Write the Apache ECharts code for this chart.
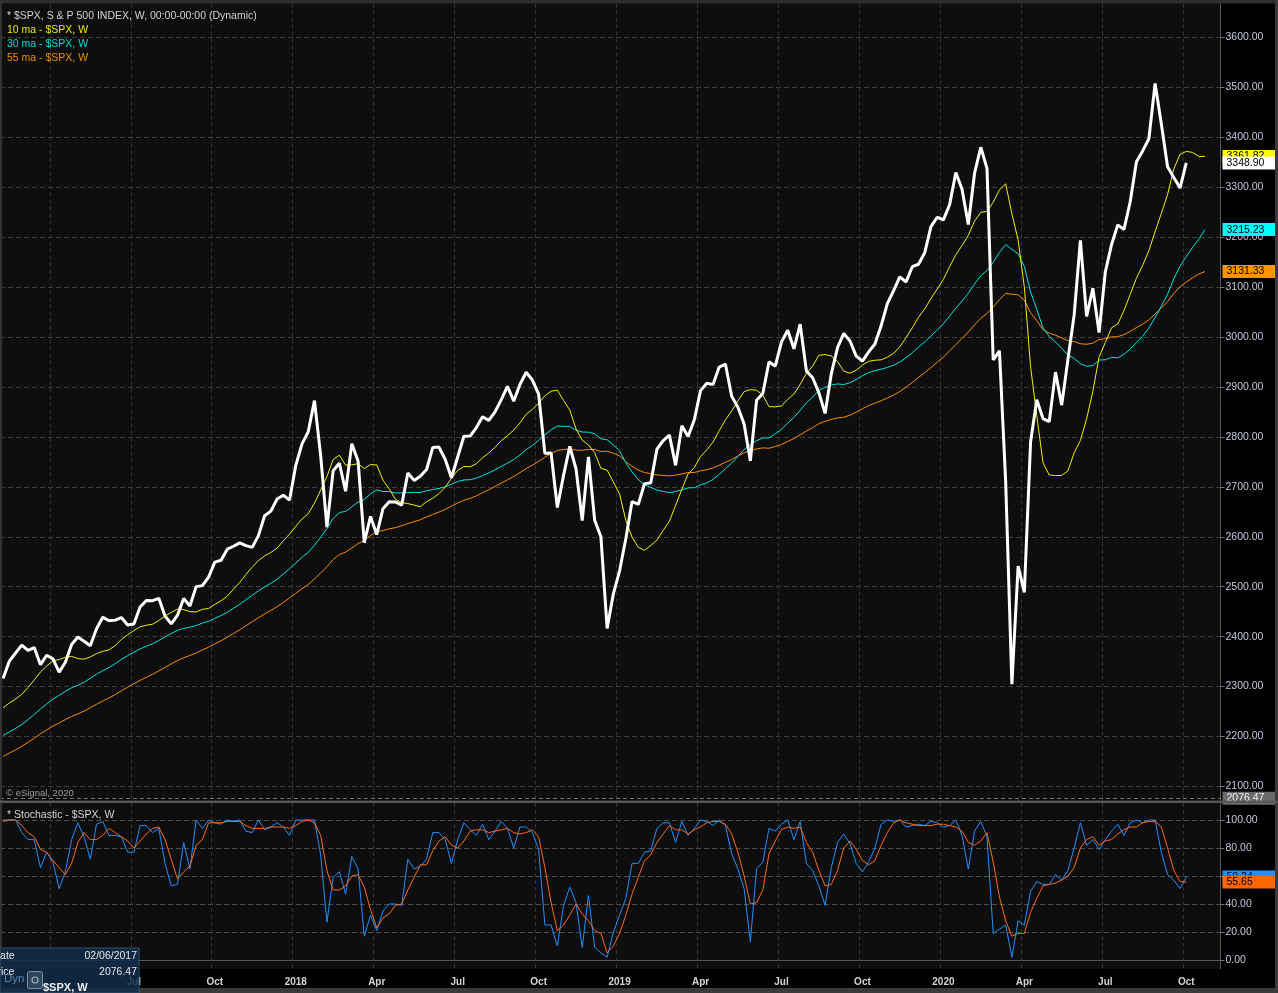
<!DOCTYPE html>
<html>
<head>
<meta charset="utf-8">
<title>$SPX weekly with moving averages and stochastic</title>
<script src="https://cdn.jsdelivr.net/npm/echarts/dist/echarts.min.js"></script>
<style>
  html, body { margin: 0; padding: 0; background: #000; }
  #chart { width: 1278px; height: 993px; }
</style>
</head>
<body>
<div id="chart"></div>
<script>
// S&P 500 weekly closes, one per week starting with the week of 02/06/2017
const closes = [
  2316.10, 2351.16, 2367.34, 2383.12, 2372.60, 2378.25, 2343.98, 2362.72, 2355.54, 2328.95,
  2348.69, 2384.20, 2399.29, 2390.90, 2381.73, 2415.82, 2439.07, 2431.77, 2433.15, 2438.30,
  2423.41, 2425.18, 2459.27, 2472.54, 2472.10, 2476.83, 2441.32, 2425.55, 2443.05, 2476.55,
  2461.43, 2500.23, 2502.22, 2519.36, 2549.33, 2553.17, 2575.21, 2581.07, 2587.84, 2582.30,
  2578.85, 2602.42, 2642.22, 2651.50, 2675.81, 2683.34, 2673.61, 2743.15, 2786.24, 2810.30,
  2872.87, 2762.13, 2619.55, 2732.22, 2747.30, 2691.25, 2786.57, 2752.01, 2588.26, 2640.87,
  2604.47, 2656.30, 2670.14, 2669.91, 2663.42, 2727.72, 2712.97, 2721.33, 2734.62, 2779.03,
  2779.66, 2754.88, 2718.37, 2759.82, 2801.31, 2801.83, 2818.82, 2840.35, 2833.28, 2850.13,
  2874.69, 2901.52, 2871.68, 2904.98, 2929.67, 2913.98, 2885.57, 2767.13, 2767.78, 2658.69,
  2723.06, 2781.01, 2736.27, 2632.56, 2760.17, 2633.08, 2599.95, 2416.62, 2485.74, 2531.94,
  2596.26, 2670.71, 2664.76, 2706.53, 2707.88, 2775.60, 2792.67, 2803.69, 2743.07, 2822.48,
  2800.71, 2834.40, 2892.74, 2907.41, 2905.03, 2939.88, 2945.64, 2881.40, 2859.53, 2826.06,
  2752.06, 2873.34, 2886.98, 2950.46, 2941.76, 2990.41, 3013.77, 2976.61, 3025.86, 2932.05,
  2918.65, 2888.68, 2847.11, 2926.46, 2978.71, 3007.39, 2992.07, 2961.79, 2952.01, 2970.27,
  2986.20, 3022.55, 3066.91, 3093.08, 3120.46, 3110.29, 3140.98, 3145.91, 3168.80, 3221.22,
  3240.02, 3234.85, 3265.35, 3329.62, 3295.47, 3225.52, 3327.71, 3380.16, 3337.75, 2954.22,
  2972.37, 2711.02, 2304.92, 2541.47, 2488.65, 2789.82, 2874.56, 2836.74, 2830.71, 2929.80,
  2863.70, 2955.45, 3044.31, 3193.93, 3041.31, 3097.74, 3009.05, 3130.01, 3185.04, 3224.73,
  3215.63, 3271.12, 3351.28, 3372.85, 3397.16, 3508.01, 3426.96, 3340.97, 3319.47, 3298.46,
  3348.90
];

// moving averages as drawn: they sit 3 weeks to the right of the price,
// so they start at the first week and run 3 weeks past the last close
const ma10 = [
  2257.7, 2267.1, 2274.9, 2284.5, 2298.3, 2313.3, 2329.3, 2341.3, 2351.7, 2354.2,
  2358.8, 2360.5, 2356.2, 2354.9, 2359.4, 2366.0, 2370.6, 2373.4, 2382.2, 2394.5,
  2403.8, 2412.1, 2419.8, 2422.9, 2424.9, 2432.4, 2441.3, 2448.6, 2455.2, 2454.1,
  2450.2, 2449.5, 2454.8, 2456.5, 2464.7, 2471.8, 2481.2, 2495.2, 2508.6, 2524.6,
  2539.2, 2552.3, 2561.7, 2568.6, 2577.5, 2591.9, 2605.5, 2621.1, 2635.6, 2646.2,
  2667.5, 2693.6, 2720.6, 2754.8, 2763.5, 2743.5, 2744.2, 2746.3, 2736.8, 2744.7,
  2744.1, 2713.5, 2696.2, 2675.3, 2668.7, 2666.5, 2663.5, 2660.3, 2670.4, 2677.1,
  2686.7, 2699.3, 2717.3, 2733.0, 2740.9, 2740.3, 2746.4, 2758.4, 2768.0, 2779.4,
  2792.7, 2802.5, 2813.7, 2828.1, 2845.6, 2855.1, 2867.7, 2882.3, 2891.6, 2893.8,
  2873.1, 2854.0, 2816.2, 2793.5, 2784.1, 2768.7, 2737.1, 2733.5, 2709.9, 2685.5,
  2632.9, 2599.3, 2579.1, 2572.9, 2582.7, 2593.3, 2612.9, 2631.3, 2663.1, 2695.3,
  2726.0, 2738.6, 2760.9, 2774.0, 2789.5, 2812.7, 2834.3, 2851.9, 2872.3, 2890.9,
  2894.8, 2893.5, 2883.8, 2860.7, 2860.4, 2862.0, 2875.2, 2886.1, 2905.0, 2927.5,
  2941.9, 2963.5, 2965.0, 2962.3, 2951.0, 2931.8, 2927.7, 2933.6, 2944.0, 2951.4,
  2953.7, 2954.4, 2959.8, 2967.3, 2980.4, 2999.1, 3018.5, 3039.7, 3056.6, 3077.2,
  3096.1, 3115.7, 3140.9, 3165.0, 3183.5, 3203.7, 3232.1, 3249.7, 3251.7, 3270.1,
  3294.6, 3307.1, 3246.8, 3194.6, 3099.8, 2940.7, 2842.0, 2748.2, 2723.8, 2722.7,
  2723.0, 2732.1, 2768.3, 2793.0, 2836.3, 2891.2, 2960.0, 2989.1, 3018.6, 3026.2,
  3053.4, 3085.3, 3118.1, 3143.8, 3173.1, 3211.2, 3247.8, 3285.4, 3336.8, 3366.0,
  3371.9, 3370.0, 3361.9, 3361.82
];

const ma30 = [
  2202.1, 2209.3, 2216.3, 2224.1, 2233.9, 2244.3, 2255.3, 2265.3, 2275.2, 2282.4,
  2290.5, 2297.8, 2302.8, 2308.8, 2316.5, 2324.8, 2332.0, 2338.2, 2345.9, 2354.6,
  2362.0, 2368.9, 2375.6, 2380.9, 2385.7, 2392.4, 2399.6, 2406.3, 2412.8, 2416.5,
  2419.0, 2422.1, 2427.2, 2430.8, 2436.7, 2442.3, 2448.8, 2456.9, 2464.9, 2473.9,
  2482.8, 2491.7, 2499.7, 2507.0, 2515.2, 2525.6, 2536.1, 2547.6, 2558.9, 2569.0,
  2583.1, 2599.3, 2616.3, 2636.6, 2648.7, 2650.9, 2660.0, 2669.6, 2674.9, 2685.9,
  2694.0, 2690.8, 2690.6, 2687.8, 2688.0, 2688.7, 2689.1, 2688.7, 2692.3, 2694.5,
  2697.0, 2700.0, 2705.6, 2710.8, 2713.9, 2714.4, 2717.4, 2722.8, 2728.0, 2734.0,
  2741.1, 2747.5, 2754.9, 2763.9, 2774.6, 2783.0, 2793.0, 2804.3, 2814.2, 2821.7,
  2821.4, 2821.1, 2813.4, 2809.8, 2809.6, 2806.3, 2796.2, 2794.4, 2784.2, 2772.0,
  2748.3, 2729.7, 2714.6, 2704.2, 2699.0, 2693.5, 2690.9, 2688.5, 2690.7, 2694.0,
  2698.1, 2698.3, 2703.9, 2708.1, 2714.6, 2725.1, 2736.4, 2747.6, 2761.1, 2774.9,
  2784.5, 2792.4, 2797.9, 2798.3, 2806.4, 2815.3, 2827.8, 2839.2, 2853.3, 2868.2,
  2879.8, 2893.3, 2899.6, 2904.2, 2906.2, 2905.0, 2908.6, 2915.0, 2922.7, 2928.9,
  2932.8, 2935.7, 2939.3, 2943.6, 2949.9, 2958.6, 2968.6, 2980.0, 2990.3, 3002.2,
  3013.9, 3026.7, 3042.1, 3057.8, 3072.3, 3087.8, 3106.8, 3122.6, 3133.3, 3150.0,
  3169.5, 3185.3, 3175.7, 3167.2, 3141.7, 3090.5, 3055.6, 3018.2, 3001.3, 2990.3,
  2977.2, 2963.9, 2957.2, 2946.4, 2941.7, 2942.9, 2953.9, 2954.7, 2959.4, 2958.4,
  2965.5, 2976.1, 2989.3, 3001.9, 3018.1, 3039.4, 3062.0, 3085.9, 3116.9, 3141.9,
  3161.3, 3179.3, 3196.0, 3215.23
];

const ma55 = [
  2160.0, 2166.8, 2173.4, 2180.4, 2188.4, 2196.7, 2205.3, 2213.2, 2221.0, 2227.2,
  2234.0, 2240.2, 2245.3, 2250.9, 2257.6, 2264.6, 2271.1, 2277.1, 2284.1, 2291.7,
  2298.8, 2305.7, 2312.5, 2318.6, 2324.5, 2331.5, 2338.6, 2345.5, 2352.3, 2357.7,
  2362.3, 2367.4, 2373.5, 2378.9, 2385.5, 2391.9, 2398.7, 2406.4, 2413.9, 2421.9,
  2429.9, 2437.9, 2445.4, 2452.5, 2460.1, 2468.8, 2477.5, 2486.8, 2496.1, 2504.7,
  2515.5, 2527.5, 2540.0, 2554.4, 2564.5, 2569.2, 2577.6, 2586.3, 2592.8, 2602.4,
  2610.4, 2612.4, 2616.1, 2618.3, 2622.2, 2626.5, 2630.5, 2634.1, 2639.8, 2644.7,
  2649.6, 2654.9, 2661.5, 2667.9, 2673.1, 2676.9, 2681.9, 2688.2, 2694.3, 2700.8,
  2707.7, 2714.2, 2721.0, 2728.5, 2736.7, 2743.5, 2751.2, 2759.5, 2766.9, 2773.0,
  2774.7, 2776.2, 2773.6, 2773.3, 2774.9, 2774.8, 2770.9, 2771.5, 2767.4, 2762.2,
  2750.4, 2741.2, 2733.7, 2728.7, 2726.4, 2723.8, 2722.9, 2722.0, 2723.6, 2725.8,
  2728.5, 2728.8, 2732.0, 2734.3, 2737.8, 2743.4, 2749.3, 2755.0, 2761.7, 2768.5,
  2772.7, 2776.1, 2778.1, 2777.3, 2780.9, 2784.9, 2791.0, 2796.7, 2804.0, 2812.0,
  2818.5, 2826.6, 2831.2, 2835.2, 2838.1, 2839.4, 2843.6, 2849.6, 2856.5, 2862.7,
  2867.9, 2872.6, 2878.0, 2883.9, 2891.0, 2899.7, 2909.1, 2919.2, 2928.7, 2939.0,
  2949.3, 2960.1, 2972.5, 2985.2, 2997.3, 3010.1, 3024.7, 3037.5, 3047.3, 3060.4,
  3074.9, 3087.4, 3085.8, 3084.7, 3074.1, 3049.1, 3032.8, 3014.8, 3007.8, 3003.8,
  2998.5, 2992.9, 2991.0, 2986.6, 2985.6, 2987.7, 2995.1, 2996.9, 3000.5, 3000.7,
  3005.1, 3011.4, 3018.9, 3025.9, 3034.7, 3046.2, 3058.3, 3071.0, 3087.4, 3100.5,
  3110.1, 3118.7, 3126.2, 3131.33
];

// weekly stochastic, fast line and its signal line
const stochK = [
  100, 100, 100, 91, 86, 86, 66, 77, 70, 51,
  63, 86, 98, 88, 72, 97, 99, 89, 89, 88,
  77, 77, 96, 96, 91, 94, 69, 53, 54, 84,
  65, 100, 94, 100, 98, 97, 100, 99, 100, 92,
  91, 100, 93, 95, 98, 95, 89, 100, 100, 100,
  100, 75, 27, 59, 63, 47, 74, 65, 17, 32,
  21, 35, 40, 40, 39, 72, 65, 67, 72, 91,
  91, 86, 69, 86, 98, 93, 89, 97, 86, 92,
  99, 94, 80, 95, 95, 91, 79, 25, 25, 10,
  39, 52, 41, 9, 46, 9, 5, 2, 20, 32,
  44, 69, 69, 77, 78, 94, 98, 98, 84, 99,
  89, 94, 100, 99, 96, 100, 96, 76, 65, 51,
  13, 65, 70, 94, 92, 97, 100, 86, 99, 69,
  64, 53, 39, 66, 84, 90, 83, 69, 63, 70,
  80, 97, 100, 99, 100, 95, 96, 97, 96, 99,
  98, 95, 96, 100, 89, 65, 92, 99, 88, 19,
  22, 25, 2, 28, 25, 49, 56, 54, 54, 61,
  57, 64, 80, 98, 82, 86, 79, 86, 92, 97,
  89, 98, 100, 98, 100, 100, 77, 61, 57, 51,
  59.24
];

const stochD = [
  99, 100, 100, 96, 91, 88, 79, 77, 71, 66,
  61, 69, 84, 91, 86, 86, 89, 94, 91, 88,
  85, 80, 85, 90, 94, 95, 86, 72, 58, 63,
  67, 82, 86, 98, 98, 98, 99, 99, 99, 96,
  94, 94, 94, 95, 95, 95, 94, 96, 99, 100,
  98, 89, 64, 50, 50, 53, 60, 61, 52, 36,
  23, 30, 33, 39, 40, 50, 59, 68, 68, 78,
  85, 88, 82, 80, 85, 92, 93, 93, 91, 92,
  93, 94, 91, 90, 91, 93, 88, 66, 41, 21,
  25, 32, 40, 33, 28, 21, 19, 5, 10, 19,
  32, 47, 59, 71, 75, 84, 90, 96, 93, 93,
  90, 93, 95, 98, 99, 99, 97, 90, 77, 60,
  40, 41, 50, 76, 85, 93, 95, 94, 95, 84,
  77, 64, 53, 54, 64, 80, 85, 79, 71, 68,
  71, 82, 91, 98, 100, 98, 97, 96, 96, 96,
  97, 97, 96, 95, 92, 84, 82, 85, 91, 70,
  45, 28, 17, 19, 19, 34, 44, 53, 54, 55,
  57, 60, 66, 80, 86, 88, 82, 85, 86, 90,
  93, 95, 95, 98, 99, 99, 95, 80, 64, 56,
  55.65
];

// tick labels
const priceTicks = [2100, 2200, 2300, 2400, 2500, 2600, 2700, 2800, 2900, 3000, 3100, 3200, 3300, 3400, 3500, 3600];
const stochTicks = [0, 20, 40, 60, 80, 100];
const xTickWeeks = ['2017-04-03', '2017-07-03', '2017-10-02', '2018-01-01', '2018-04-02', '2018-07-02', '2018-10-01',
  '2018-12-31', '2019-04-01', '2019-07-01', '2019-09-30', '2019-12-30', '2020-03-30', '2020-06-29', '2020-09-28'];
// first one sits under the cursor box, so no text
const xTickText = ['', 'Jul', 'Oct', '2018', 'Apr', 'Jul', 'Oct', '2019', 'Apr', 'Jul', 'Oct', '2020', 'Apr', 'Jul', 'Oct'];

// week axis: 02/06/2017 and on, a few empty weeks after the last bar
var weeks = [];
for (var i = 0; i < 196; i++) {
  weeks.push(new Date(Date.UTC(2017, 1, 6) + i * 7 * 864e5).toISOString().slice(0, 10));
}
var tickMap = {};
xTickWeeks.forEach(function (w, k) { tickMap[w] = xTickText[k]; });
function onTick(idx, val) { return val in tickMap; }

var FONT = '"Liberation Sans", Arial, sans-serif';
var AXIS_TEXT = '#c4c8dc';

// value tag on the right axis, like the ones eSignal puts at the last value
function tag(value, bg, fg, lineStyle) {
  return {
    silent: true,
    symbol: 'none',
    animation: false,
    lineStyle: lineStyle || { color: 'rgba(0,0,0,0)', width: 0 },
    label: {
      show: true, position: 'end', distance: 2,
      formatter: function () { return value.toFixed(2); },
      backgroundColor: bg, color: fg, fontFamily: FONT, fontSize: 10.5,
      padding: [1, 3, 0, 4], width: 46, lineHeight: 12
    },
    data: [{ yAxis: value }]
  };
}

function legendText(t, y, color) {
  return { type: 'text', z: 50, style: { text: t, x: 7, y: y, fill: color, font: '10.5px ' + FONT, verticalAlign: 'middle' } };
}

var chart = echarts.init(document.getElementById('chart'));
var option = {
  backgroundColor: '#000',
  animation: false,
  textStyle: { fontFamily: FONT },
  grid: [
    { left: 0, top: 3.5, width: 1220.5, height: 796, show: true, backgroundColor: '#0e0e0e', borderWidth: 0 },
    { left: 0, top: 803, width: 1220.5, height: 166, show: true, backgroundColor: '#0e0e0e', borderWidth: 0 }
  ],
  xAxis: [
    {
      type: 'category', gridIndex: 0, data: weeks, boundaryGap: true,
      axisLine: { show: false }, axisTick: { show: false }, axisLabel: { show: false },
      splitLine: { show: true, interval: onTick, lineStyle: { color: '#343434', type: [4, 3] } }
    },
    {
      type: 'category', gridIndex: 1, data: weeks, boundaryGap: true,
      axisLine: { show: true, lineStyle: { color: '#555' } },
      axisTick: { show: false },
      axisLabel: {
        interval: onTick, formatter: function (v) { return tickMap[v] || ''; },
        color: '#d4d4d4', fontWeight: 'bold', fontSize: 10, margin: 8
      },
      splitLine: { show: true, interval: onTick, lineStyle: { color: '#343434', type: [4, 3] } }
    }
  ],
  yAxis: [
    {
      type: 'value', gridIndex: 0, position: 'right', min: 2073.9, max: 3668.1,
      axisLine: { show: true, lineStyle: { color: '#555' } },
      axisTick: { show: true, length: 4, customValues: priceTicks, lineStyle: { color: '#777' } },
      axisLabel: { customValues: priceTicks, formatter: function (v) { return v.toFixed(2); }, color: AXIS_TEXT, fontSize: 10.5, margin: 5 },
      splitLine: { show: true, lineStyle: { color: '#3c3c3c', type: [5, 3] } }
    },
    {
      type: 'value', gridIndex: 1, position: 'right', min: -6.43, max: 112.14,
      axisLine: { show: true, lineStyle: { color: '#555' } },
      axisTick: { show: true, length: 4, customValues: stochTicks, lineStyle: { color: '#777' } },
      axisLabel: { customValues: stochTicks, formatter: function (v) { return v.toFixed(2); }, color: AXIS_TEXT, fontSize: 10.5, margin: 5 },
      splitLine: { show: true, lineStyle: { color: '#4e4e4e', type: [5, 3] } }
    }
  ],
  series: [
    { name: 'cursor', type: 'line', xAxisIndex: 0, yAxisIndex: 0, data: [], symbol: 'none',
      markLine: tag(2076.47, '#6a6a6a', '#f0f0f0', { color: '#777', type: [4, 3], width: 1 }) },
    { name: '55 ma', type: 'line', xAxisIndex: 0, yAxisIndex: 0, data: ma55, symbol: 'none',
      lineStyle: { color: '#ff8c00', width: 1 }, markLine: tag(3131.33, '#ff9400', '#000') },
    { name: '30 ma', type: 'line', xAxisIndex: 0, yAxisIndex: 0, data: ma30, symbol: 'none',
      lineStyle: { color: '#00e5e5', width: 1 }, markLine: tag(3215.23, '#00ffff', '#000') },
    { name: '10 ma', type: 'line', xAxisIndex: 0, yAxisIndex: 0, data: ma10, symbol: 'none',
      lineStyle: { color: '#f0f000', width: 1 }, markLine: tag(3361.82, '#ffff00', '#000') },
    { name: '$SPX', type: 'line', xAxisIndex: 0, yAxisIndex: 0, data: closes, symbol: 'none',
      lineStyle: { color: '#ffffff', width: 3 }, markLine: tag(3348.90, '#ffffff', '#000') },
    { name: '%K', type: 'line', xAxisIndex: 1, yAxisIndex: 1, data: stochK, symbol: 'none',
      lineStyle: { color: '#1e90ff', width: 1 }, markLine: tag(59.24, '#1e90ff', '#000') },
    { name: '%D', type: 'line', xAxisIndex: 1, yAxisIndex: 1, data: stochD, symbol: 'none',
      lineStyle: { color: '#ff6a10', width: 1 }, markLine: tag(55.65, '#ff6600', '#000') }
  ],
  graphic: [
    // frame and panel separator
    { type: 'rect', z: 40, shape: { x: 0, y: 0, width: 1278, height: 3.5 }, style: { fill: '#2e2e2e' } },
    { type: 'rect', z: 40, shape: { x: 0, y: 0, width: 2, height: 993 }, style: { fill: '#333' } },
    { type: 'rect', z: 40, shape: { x: 1275, y: 0, width: 3, height: 993 }, style: { fill: '#3a3a3a' } },
    { type: 'rect', z: 40, shape: { x: 0, y: 988, width: 1278, height: 5 }, style: { fill: '#3a3a3a' } },
    { type: 'rect', z: 40, shape: { x: 0, y: 800.5, width: 1278, height: 2.5 }, style: { fill: '#585858' } },
    // titles
    legendText('* $SPX, S & P 500 INDEX, W, 00:00-00:00 (Dynamic)', 16, '#d2d2d2'),
    legendText('10 ma - $SPX, W', 30, '#e8e800'),
    legendText('30 ma - $SPX, W', 44, '#00d8d8'),
    legendText('55 ma - $SPX, W', 58, '#f08c00'),
    legendText('* Stochastic - $SPX, W', 815, '#d2d2d2'),
    { type: 'text', z: 50, style: { text: '\u00a9 eSignal, 2020', x: 6, y: 793, fill: '#9c9c9c', font: '9.5px ' + FONT, verticalAlign: 'middle' } },
    // cursor data box, bottom left
    { type: 'rect', z: 60, shape: { x: 0, y: 948, width: 139, height: 45 },
      style: { fill: 'rgba(16,44,72,0.86)', stroke: '#2f5273', lineWidth: 1 } },
    { type: 'text', z: 61, style: { text: 'Date', x: -7.5, y: 956, fill: '#e6e6e6', font: '10.5px ' + FONT, verticalAlign: 'middle' } },
    { type: 'text', z: 61, style: { text: '02/06/2017', x: 137, y: 956, fill: '#e6e6e6', font: '10.5px ' + FONT, align: 'right', verticalAlign: 'middle' } },
    { type: 'text', z: 61, style: { text: 'Price', x: -9.5, y: 972, fill: '#e6e6e6', font: '10.5px ' + FONT, verticalAlign: 'middle' } },
    { type: 'text', z: 61, style: { text: '2076.47', x: 137, y: 972, fill: '#e6e6e6', font: '10.5px ' + FONT, align: 'right', verticalAlign: 'middle' } },
    { type: 'text', z: 61, style: { text: 'Dyn', x: 4, y: 979, fill: '#5e86ad', font: '11.5px ' + FONT, verticalAlign: 'middle' } },
    { type: 'rect', z: 61, shape: { x: 27.5, y: 971.5, width: 15, height: 17, r: 2 },
      style: { fill: 'rgba(110,130,150,0.35)', stroke: '#7d8fa1', lineWidth: 1 } },
    { type: 'circle', z: 62, shape: { cx: 35, cy: 980, r: 3 }, style: { fill: 'none', stroke: '#9fb0c0', lineWidth: 1.2 } },
    { type: 'text', z: 61, style: { text: '$SPX, W', x: 43, y: 982, fill: '#eeeeee', font: 'bold 11px ' + FONT, verticalAlign: 'top' } }
  ]
};
chart.setOption(option);
</script>
</body>
</html>
